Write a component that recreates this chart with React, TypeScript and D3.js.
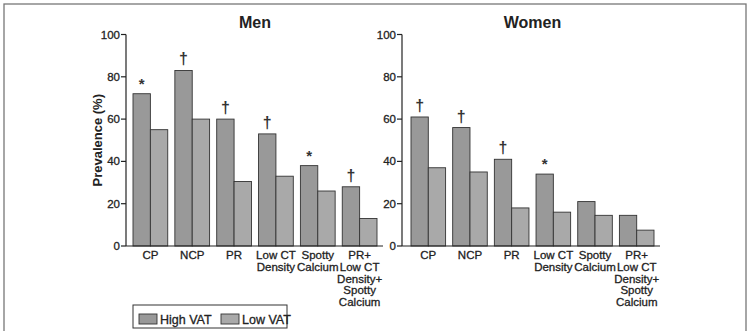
import React from "react";
import * as d3 from "d3";

// categories (label lines)
const categories = ["CP", "NCP", "PR", "Low CT Density", "Spotty Calcium", "PR+ Low CT Density+ Spotty Calcium"];
const categoryLines = [
  ["CP"],
  ["NCP"],
  ["PR"],
  ["Low CT", "Density"],
  ["Spotty", "Calcium"],
  ["PR+", "Low CT", "Density+", "Spotty", "Calcium"],
];
const series = ["High VAT", "Low VAT"];

// Men
const menHigh = [72, 83, 60, 53, 38, 28];
const menLow = [55, 60, 30.5, 33, 26, 13];
const menMarks = ["*", "†", "†", "†", "*", "†"];

// Women
const womenHigh = [61, 56, 41, 34, 21, 14.5];
const womenLow = [37, 35, 18, 16, 14.5, 7.5];
const womenMarks = ["†", "†", "†", "*", "", ""];

const yTicks = [0, 20, 40, 60, 80, 100];

const colors = ["#999999", "#a9a9a9"];
const font = "'Liberation Sans', Arial, Helvetica, sans-serif";
const ink = "#222";

const y = d3.scaleLinear().domain([0, 100]).range([246, 34.5]);

type PanelProps = {
  title: string;
  high: number[];
  low: number[];
  marks: string[];
  axisX: number;
  range: [number, number];
  showYLabel?: boolean;
};

const Panel = ({ title, high, low, marks, axisX, range, showYLabel }: PanelProps) => {
  const x = d3.scaleBand<string>().domain(categories).range(range).paddingInner(0.17).paddingOuter(0);
  const inner = d3.scaleBand<string>().domain(series).range([0, x.bandwidth()]);
  const y0 = y(0);
  const axisEnd = range[1] + 6;
  return (
    <g fontFamily={font}>
      <text x={(range[0] + range[1]) / 2} y={28} textAnchor="middle" fontSize={16} fontWeight="bold" fill={ink}>
        {title}
      </text>
      {showYLabel && (
        <text
          transform={`translate(102,${y(50)}) rotate(-90)`}
          textAnchor="middle"
          fontSize={13}
          fontWeight="bold"
          fill={ink}
        >
          Prevalence (%)
        </text>
      )}
      {/* bars */}
      {categories.map((c, i) => (
        <g key={c} transform={`translate(${x(c)},0)`}>
          {[high[i], low[i]].map((v, j) => (
            <rect
              key={j}
              x={inner(series[j])}
              y={y(v)}
              width={inner.bandwidth()}
              height={y0 - y(v)}
              fill={colors[j]}
              stroke="#333"
              strokeWidth={0.9}
            />
          ))}
          {marks[i] && (
            <text
              x={(inner(series[0]) as number) + inner.bandwidth() / 2}
              y={y(high[i]) - (marks[i] === "*" ? 5 : 6)}
              textAnchor="middle"
              fontSize={marks[i] === "*" ? 15 : 16}
              fontWeight="bold"
              fill="#333"
            >
              {marks[i]}
            </text>
          )}
          {categoryLines[i].map((ln, k) => (
            <text
              key={k}
              x={x.bandwidth() / 2}
              y={259 + k * 11.8}
              textAnchor="middle"
              fontSize={11.5}
              fill={ink}
              stroke={ink}
              strokeWidth={0.3}
            >
              {ln}
            </text>
          ))}
        </g>
      ))}
      {/* axes */}
      <line x1={axisX} x2={axisX} y1={y(100)} y2={y0} stroke={ink} strokeWidth={1.2} />
      <line x1={axisX} x2={axisEnd} y1={y0} y2={y0} stroke={ink} strokeWidth={1.2} />
      {yTicks.map((t) => (
        <g key={t}>
          <line x1={axisX - 5} x2={axisX} y1={y(t)} y2={y(t)} stroke={ink} strokeWidth={1.2} />
          <text
            x={axisX - 6}
            y={y(t) + 4}
            textAnchor="end"
            fontSize={11.5}
            fill={ink}
            stroke={ink}
            strokeWidth={0.3}
          >
            {t}
          </text>
        </g>
      ))}
    </g>
  );
};

const App = () => {
  return (
    <svg width={748} height={331} style={{ position: "absolute", left: 0, top: 0, background: "#fff" }}>
      <rect x={4} y={4} width={742} height={340} fill="#fff" stroke="#777" strokeWidth={1.3} />
      <Panel title="Men" high={menHigh} low={menLow} marks={menMarks} axisX={126} range={[133, 377]} showYLabel />
      <Panel title="Women" high={womenHigh} low={womenLow} marks={womenMarks} axisX={402} range={[411, 654]} />
      {/* legend */}
      <g fontFamily={font}>
        <rect x={133} y={305} width={154} height={23} fill="#fff" stroke="#333" strokeWidth={1} />
        {series.map((s, j) => {
          const lx = j === 0 ? 139 : 221;
          return (
            <g key={s}>
              <rect x={lx} y={314} width={18} height={10} fill={colors[j]} stroke="#333" strokeWidth={0.9} />
              <text x={lx + 21} y={323.5} fontSize={12.5} fill={ink} stroke={ink} strokeWidth={0.3}>
                {s}
              </text>
            </g>
          );
        })}
      </g>
    </svg>
  );
};

export default App;
